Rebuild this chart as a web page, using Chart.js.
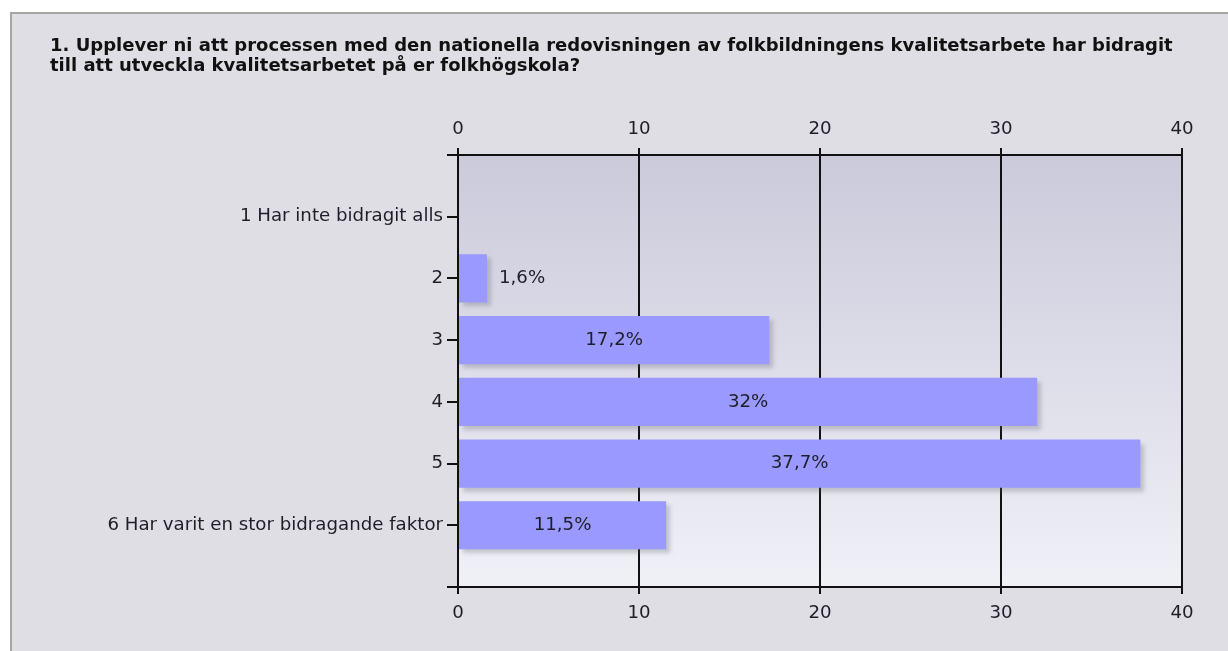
<!DOCTYPE html>
<html>
<head>
<meta charset="utf-8">
<script src="https://cdn.jsdelivr.net/npm/chart.js@4/dist/chart.umd.min.js"></script>
<style>
  html, body { margin: 0; padding: 0; background: #ffffff; width: 1228px; height: 651px; overflow: hidden; }
  #panel { position: absolute; left: 10px; top: 12px; width: 1240px; height: 700px;
           background: #dfdee4; border: 2px solid #a5a5a2; box-sizing: border-box; }
  #c { position: absolute; left: 0; top: 0; }
</style>
</head>
<body>
<div id="panel"></div>
<canvas id="c" width="1228" height="651"></canvas>
<script>
const titleLines = [
  '1. Upplever ni att processen med den nationella redovisningen av folkbildningens kvalitetsarbete har bidragit',
  'till att utveckla kvalitetsarbetet på er folkhögskola?'
];
const categories = [
  '1 Har inte bidragit alls',
  '2',
  '3',
  '4',
  '5',
  '6 Har varit en stor bidragande faktor'
];
const percentValues = [0, 1.6, 17.2, 32, 37.7, 11.5];
const xTicks = [0, 10, 20, 30, 40];

// padded category axis: empty slot at each end
const yLabels = [''].concat(categories, ['']);
const yData = [null].concat(percentValues, [null]);

const FONT = 'DejaVu Sans';
const tickFont = { family: FONT, size: 18.2 };

function fmt(v) { return String(v).replace('.', ',') + '%'; }

const bgPlugin = {
  id: 'bgPlugin',
  beforeDraw(chart) {
    const { ctx, chartArea: a } = chart;
    const g = ctx.createLinearGradient(0, a.top, 0, a.bottom);
    g.addColorStop(0, '#cbcadb');
    g.addColorStop(1, '#f0f0f7');
    ctx.save();
    ctx.fillStyle = g;
    ctx.fillRect(a.left, a.top, a.right - a.left, a.bottom - a.top);
    ctx.restore();
  }
};

const shadowPlugin = {
  id: 'shadowPlugin',
  beforeDatasetsDraw(chart) {
    const ctx = chart.ctx;
    ctx.save();
    ctx.shadowColor = 'rgba(90,90,100,0.28)';
    ctx.shadowOffsetX = 4;
    ctx.shadowOffsetY = 4;
    ctx.shadowBlur = 4;
  },
  afterDatasetsDraw(chart) {
    chart.ctx.restore();
  }
};

const labelPlugin = {
  id: 'labelPlugin',
  afterDatasetsDraw(chart) {
    const ctx = chart.ctx;
    const meta = chart.getDatasetMeta(0);
    ctx.save();
    ctx.font = `${tickFont.size}px "${FONT}"`;
    ctx.fillStyle = '#1e1e2a';
    ctx.textBaseline = 'middle';
    meta.data.forEach((bar, i) => {
      const v = yData[i];
      if (v === null || v === 0) return;
      const txt = fmt(v);
      const w = ctx.measureText(txt).width;
      const left = bar.base, right = bar.x;
      if (right - left > w + 20) {
        ctx.textAlign = 'center';
        ctx.fillText(txt, (left + right) / 2, bar.y);
      } else {
        ctx.textAlign = 'left';
        ctx.fillText(txt, right + 12, bar.y);
      }
    });
    ctx.restore();
  }
};

new Chart(document.getElementById('c'), {
  type: 'bar',
  data: {
    labels: yLabels,
    datasets: [{
      data: yData,
      backgroundColor: '#9999ff',
      borderWidth: 0,
      categoryPercentage: 1,
      barPercentage: 0.78
    }]
  },
  options: {
    indexAxis: 'y',
    responsive: false,
    devicePixelRatio: 1,
    animation: false,
    layout: { padding: { left: 50, right: 46, top: 36, bottom: 0 } },
    plugins: {
      legend: { display: false },
      tooltip: { enabled: false },
      title: {
        display: true,
        text: titleLines,
        align: 'start',
        color: '#111111',
        font: { family: FONT, size: 18, weight: 'bold', lineHeight: '20px' },
        padding: { top: 0, bottom: 0 }
      }
    },
    scales: {
      y: {
        type: 'category',
        position: 'left',
        offset: false,
        afterFit(scale) { scale.width = 408; },
        grid: { display: true, offset: false, drawOnChartArea: false, drawTicks: true, tickLength: 11, color: '#111', lineWidth: 2 },
        border: { display: true, color: '#111', width: 2 },
        ticks: { color: '#1e1e2a', font: tickFont, padding: 4, autoSkip: false }
      },
      x: {
        type: 'linear',
        position: 'bottom',
        min: 0, max: 40,
        afterBuildTicks(scale) { scale.ticks = xTicks.map(v => ({ value: v })); },
        afterFit(scale) { scale.height = 64; },
        grid: { display: true, drawOnChartArea: true, drawTicks: true, tickLength: 7, color: '#111', lineWidth: 2 },
        border: { display: true, color: '#111', width: 2 },
        ticks: { color: '#1e1e2a', font: tickFont, padding: 8, maxRotation: 0 }
      },
      x2: {
        type: 'linear',
        position: 'top',
        min: 0, max: 40,
        afterBuildTicks(scale) { scale.ticks = xTicks.map(v => ({ value: v })); },
        afterFit(scale) { scale.height = 79; },
        grid: { display: true, drawOnChartArea: false, drawTicks: true, tickLength: 7, color: '#111', lineWidth: 2 },
        border: { display: true, color: '#111', width: 2 },
        ticks: { color: '#1e1e2a', font: tickFont, padding: 8, maxRotation: 0 }
      }
    }
  },
  plugins: [bgPlugin, shadowPlugin, labelPlugin]
});
</script>
</body>
</html>
